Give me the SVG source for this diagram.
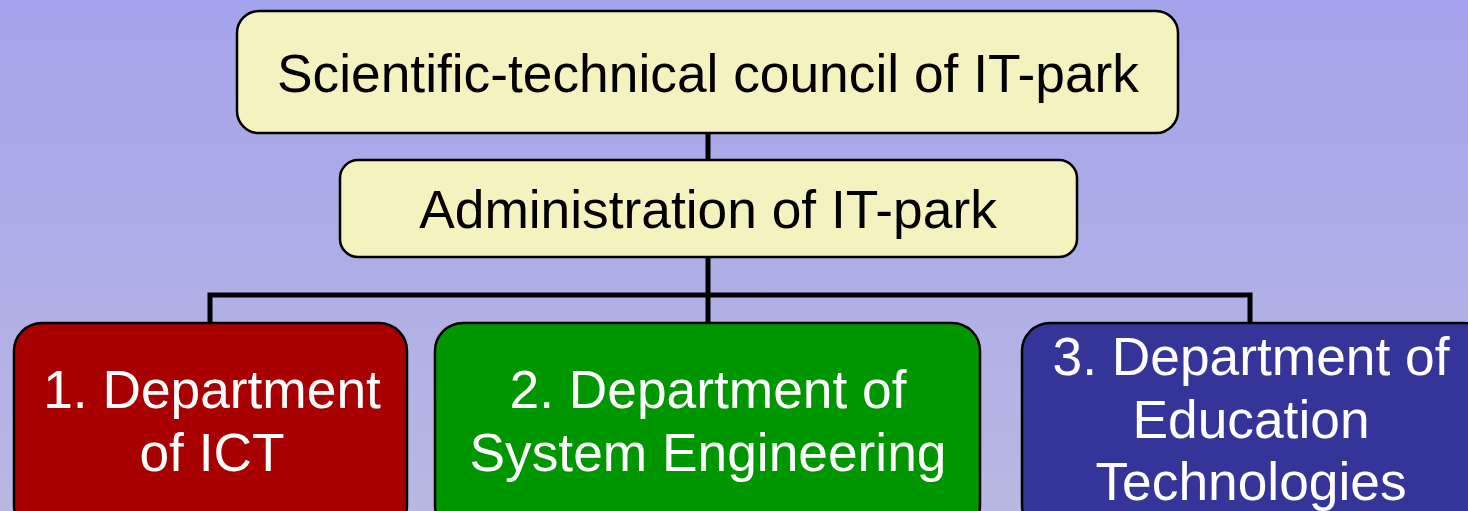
<svg xmlns="http://www.w3.org/2000/svg" width="1468" height="511" viewBox="0 0 1468 511">
<defs>
<linearGradient id="bg" x1="0" y1="0" x2="0" y2="1">
<stop offset="0" stop-color="#a3a3ec"/>
<stop offset="1" stop-color="#b8b8e2"/>
</linearGradient>
<style>
.box{stroke:#000;stroke-width:2.5}
.y{fill:#f4f2be}
.t{font-family:"Liberation Sans",Arial,sans-serif;font-size:53.3px;text-anchor:middle}
.dark{fill:#000}
.light{fill:#fff}
.conn{fill:none;stroke:#000;stroke-width:5}
</style>
</defs>
<rect width="1468" height="511" fill="url(#bg)"/>
<g id="connectors">
<path class="conn" d="M708 133V160M708 257V323M210 323V295H1250V323"/>
</g>
<g id="council">
<rect class="box y" x="237" y="11" width="941" height="122" rx="22"/>
<text class="t dark" x="708" y="92">Scientific-technical council of IT-park</text>
</g>
<g id="administration">
<rect class="box y" x="340" y="160" width="737" height="97" rx="18"/>
<text class="t dark" x="708" y="228">Administration of IT-park</text>
</g>
<g id="dept1">
<rect class="box" fill="#a80000" x="14" y="323" width="393" height="210" rx="28"/>
<text class="t light" x="212" y="408">1. Department</text>
<text class="t light" x="212" y="471">of ICT</text>
</g>
<g id="dept2">
<rect class="box" fill="#009600" x="435" y="323" width="545" height="210" rx="28"/>
<text class="t light" x="708" y="408">2. Department of</text>
<text class="t light" x="708" y="471">System Engineering</text>
</g>
<g id="dept3">
<rect class="box" fill="#353599" x="1022" y="323" width="470" height="210" rx="28"/>
<text class="t light" x="1251" y="375">3. Department of</text>
<text class="t light" x="1251" y="438">Education</text>
<text class="t light" x="1251" y="500">Technologies</text>
</g>
</svg>
